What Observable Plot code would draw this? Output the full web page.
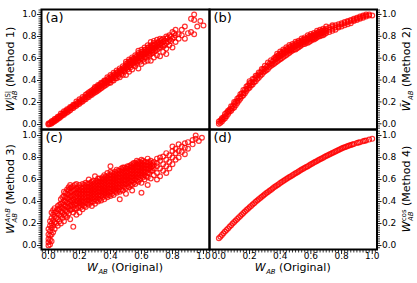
<!DOCTYPE html>
<html><head><meta charset="utf-8">
<script src="https://cdn.jsdelivr.net/npm/d3@7"></script>
<script src="https://cdn.jsdelivr.net/npm/@observablehq/plot@0.6"></script>
<style>
body{margin:0;background:#fff;}
#wrap{position:relative;width:417px;height:283px;font-family:"DejaVu Sans";color:#000;overflow:hidden;}
#wrap svg{position:absolute;left:0;top:0;}
.lab{position:absolute;white-space:nowrap;font-size:11px;line-height:1;}
.rot{transform:translate(-50%,-50%) rotate(-90deg);}
.hz{transform:translate(-50%,-50%);}
.ss{display:inline-block;vertical-align:-0.42em;font-size:0.62em;line-height:1.05;margin-left:0.5px;}
.ss span{display:block;text-align:left;}
i{font-style:italic;}
</style>
</head><body>
<div id="wrap"></div>
<script>
// ---- data (x = W_AB original, y = method value) ----
const aCols = [
 [0.00,[0.00,0.01]],[0.02,[0.01,0.02,0.03]],[0.04,[0.03,0.04,0.05]],[0.06,[0.05,0.06,0.07]],
 [0.08,[0.07,0.08,0.10]],[0.10,[0.09,0.10,0.12]],[0.12,[0.11,0.13,0.14]],[0.14,[0.13,0.15,0.16]],
 [0.16,[0.15,0.17,0.18]],[0.18,[0.17,0.19,0.21]],[0.20,[0.19,0.21,0.23]],[0.22,[0.21,0.23,0.25]],
 [0.24,[0.23,0.25,0.27]],[0.26,[0.25,0.27,0.29]],[0.28,[0.27,0.29,0.31]],[0.30,[0.29,0.31,0.33,0.34]],
 [0.32,[0.31,0.33,0.35,0.36]],[0.34,[0.33,0.35,0.37,0.38]],[0.36,[0.35,0.37,0.39,0.40]],
 [0.38,[0.37,0.39,0.41,0.43]],[0.40,[0.38,0.41,0.43,0.45]],[0.42,[0.40,0.43,0.45,0.47]],
 [0.44,[0.42,0.45,0.47,0.49]],[0.46,[0.43,0.47,0.49,0.51]],[0.48,[0.45,0.49,0.51,0.53]],
 [0.50,[0.45,0.51,0.53,0.55,0.57]],[0.52,[0.48,0.53,0.55,0.57,0.59]],[0.54,[0.50,0.55,0.57,0.59,0.61]],
 [0.56,[0.53,0.57,0.59,0.61,0.63]],[0.58,[0.51,0.58,0.61,0.63,0.65,0.67]],[0.60,[0.55,0.60,0.62,0.64,0.66,0.68]],
 [0.62,[0.57,0.61,0.64,0.66,0.68,0.70]],[0.64,[0.58,0.63,0.66,0.68,0.70,0.72]],[0.66,[0.58,0.64,0.67,0.70,0.72,0.75]],
 [0.68,[0.61,0.66,0.69,0.72,0.74,0.76]],[0.70,[0.63,0.68,0.71,0.74,0.77]],[0.72,[0.62,0.70,0.73,0.76,0.78]],
 [0.74,[0.66,0.71,0.75,0.78]],[0.76,[0.64,0.69,0.74,0.78,0.80]],[0.78,[0.72,0.77,0.81]],
 [0.80,[0.70,0.78,0.84]],[0.82,[0.75,0.81,0.86]],[0.84,[0.78,0.82]],[0.86,[0.81,0.86]],
 [0.88,[0.78,0.89]],[0.90,[0.83]],[0.92,[0.84,0.96]],[0.94,[0.82,0.95,1.00]],[0.96,[0.89]],
 [0.98,[0.94]],[1.00,[0.90]],
 [0.01,[0.005,0.015]],[0.03,[0.02,0.035]],[0.05,[0.04,0.055]],[0.07,[0.06,0.075]],[0.09,[0.085,0.10]],
 [0.11,[0.105,0.12]],[0.13,[0.12,0.14]],[0.15,[0.145,0.16]],[0.17,[0.165,0.18]],[0.19,[0.185,0.20]],
 [0.21,[0.205,0.22]],[0.23,[0.225,0.24]],[0.25,[0.245,0.26,0.28]],[0.27,[0.265,0.28,0.30]],[0.29,[0.285,0.30,0.32]],
 [0.31,[0.30,0.32,0.34]],[0.33,[0.32,0.34,0.36]],[0.35,[0.34,0.36,0.38]],[0.37,[0.36,0.38,0.40]],
 [0.39,[0.38,0.40,0.42]],[0.41,[0.40,0.42,0.44]],[0.43,[0.42,0.44,0.46]],[0.45,[0.44,0.46,0.48]],
 [0.47,[0.46,0.48,0.50]],[0.49,[0.48,0.50,0.52]],[0.51,[0.50,0.52,0.54,0.56]],[0.53,[0.52,0.54,0.56,0.58]],
 [0.55,[0.54,0.56,0.58,0.60]],[0.57,[0.56,0.58,0.60,0.62]],[0.59,[0.57,0.60,0.62,0.64]],[0.61,[0.59,0.62,0.64,0.66]],
 [0.63,[0.61,0.64,0.66,0.68]],[0.65,[0.63,0.65,0.68,0.70]],[0.67,[0.65,0.67,0.70,0.72]],[0.69,[0.67,0.70,0.73]],
 [0.71,[0.69,0.72,0.75]],[0.73,[0.72,0.74,0.77]],[0.75,[0.72,0.76]],[0.77,[0.75,0.79]],[0.79,[0.76,0.80]],[0.81,[0.79,0.83]]
];
const bCols = [
 [0.00,[0.00,0.02]],[0.02,[0.02,0.04,0.05]],[0.04,[0.05,0.07,0.09]],[0.06,[0.09,0.11,0.12]],
 [0.08,[0.12,0.14,0.16]],[0.10,[0.15,0.18,0.20]],[0.12,[0.19,0.21,0.23]],[0.14,[0.23,0.25,0.27]],
 [0.16,[0.26,0.28,0.31]],[0.18,[0.30,0.32,0.34]],[0.20,[0.33,0.35,0.37,0.39]],[0.22,[0.36,0.38,0.41]],
 [0.24,[0.39,0.42,0.44]],[0.26,[0.42,0.45,0.47]],[0.28,[0.45,0.48,0.50]],[0.30,[0.48,0.50,0.53]],
 [0.32,[0.50,0.53,0.56]],[0.34,[0.53,0.55,0.58]],[0.36,[0.55,0.58,0.60]],[0.38,[0.57,0.60,0.62,0.64]],
 [0.40,[0.59,0.62,0.64,0.66]],[0.42,[0.61,0.64,0.66,0.68]],[0.44,[0.63,0.66,0.68,0.70]],
 [0.46,[0.65,0.67,0.70,0.72]],[0.48,[0.67,0.69,0.71,0.73]],[0.50,[0.68,0.71,0.73,0.75]],
 [0.52,[0.70,0.72,0.74,0.76]],[0.54,[0.72,0.74,0.76,0.78]],[0.56,[0.73,0.75,0.77,0.79]],
 [0.58,[0.74,0.77,0.79,0.81]],[0.60,[0.76,0.78,0.80,0.82]],[0.62,[0.77,0.79,0.81,0.83]],
 [0.64,[0.79,0.81,0.83,0.85]],[0.66,[0.80,0.82,0.84,0.86]],[0.68,[0.81,0.83,0.85,0.87]],
 [0.70,[0.83,0.85,0.87,0.89]],[0.72,[0.84,0.86,0.88]],[0.74,[0.85,0.87,0.89,0.90]],
 [0.76,[0.86,0.88,0.90]],[0.78,[0.88,0.89,0.91]],[0.80,[0.89,0.91,0.92]],[0.82,[0.90,0.92,0.93]],
 [0.84,[0.91,0.93,0.94]],[0.86,[0.92,0.94,0.95]],[0.88,[0.94,0.95,0.96]],[0.90,[0.95,0.96,0.97]],
 [0.92,[0.96,0.97,0.98]],[0.94,[0.97,0.98,0.99]],[0.96,[0.98,0.99,1.00]],[0.98,[0.99,1.00]],[1.00,[0.99]],
 [0.01,[0.01,0.03]],[0.03,[0.04,0.06]],[0.05,[0.07,0.10]],[0.07,[0.11,0.13]],[0.09,[0.14,0.16]],
 [0.11,[0.17,0.20]],[0.13,[0.21,0.24]],[0.15,[0.25,0.28]],[0.17,[0.28,0.31]],[0.19,[0.32,0.35]],
 [0.21,[0.35,0.38]],[0.23,[0.38,0.41]],[0.25,[0.41,0.44]],[0.27,[0.44,0.47]],[0.29,[0.47,0.50]],
 [0.31,[0.49,0.52]],[0.33,[0.52,0.55]],[0.35,[0.54,0.57]],[0.37,[0.56,0.59,0.61]],[0.39,[0.58,0.61,0.63]],
 [0.41,[0.60,0.63,0.65]],[0.43,[0.62,0.65,0.67]],[0.45,[0.64,0.67,0.69]],[0.47,[0.66,0.68,0.71]],
 [0.49,[0.68,0.70,0.72]],[0.51,[0.69,0.72,0.74]],[0.53,[0.71,0.73,0.75]],[0.55,[0.73,0.75,0.77]],
 [0.57,[0.74,0.76,0.78]],[0.59,[0.75,0.78,0.80]],[0.61,[0.77,0.79,0.81]],[0.63,[0.78,0.80,0.82]],
 [0.65,[0.80,0.82,0.84]],[0.67,[0.81,0.83,0.85]],[0.69,[0.82,0.84,0.86]]
];
const cCols = [
 [0.00,[0.00,0.03,0.06,0.10,0.15]],[0.01,[0.01,0.05,0.09,0.13,0.18,0.22]],[0.02,[0.04,0.10,0.16,0.20,0.25,0.30]],
 [0.03,[0.12,0.18,0.23,0.28,0.32]],[0.04,[0.15,0.21,0.26,0.30,0.34]],[0.06,[0.18,0.24,0.29,0.33,0.36]],
 [0.08,[0.20,0.27,0.31,0.35,0.38,0.42]],[0.10,[0.22,0.28,0.33,0.37,0.41,0.45,0.49]],
 [0.12,[0.26,0.31,0.35,0.39,0.43,0.47,0.51]],[0.14,[0.24,0.32,0.36,0.40,0.44,0.48,0.52,0.55]],
 [0.16,[0.17,0.30,0.35,0.39,0.42,0.46,0.50,0.54]],[0.18,[0.28,0.34,0.38,0.41,0.45,0.48,0.52,0.56]],
 [0.20,[0.30,0.36,0.39,0.42,0.45,0.48,0.51,0.55]],[0.22,[0.33,0.37,0.40,0.43,0.46,0.49,0.52,0.56]],
 [0.24,[0.35,0.39,0.42,0.45,0.48,0.51,0.54,0.57]],[0.26,[0.37,0.41,0.44,0.47,0.50,0.53,0.56,0.60]],
 [0.28,[0.36,0.40,0.43,0.46,0.49,0.52,0.55,0.58]],[0.30,[0.38,0.42,0.45,0.48,0.51,0.54,0.57,0.63]],
 [0.32,[0.40,0.43,0.46,0.49,0.52,0.55,0.58,0.61]],[0.34,[0.41,0.45,0.48,0.51,0.54,0.57,0.60]],
 [0.36,[0.42,0.46,0.49,0.52,0.55,0.58,0.61,0.64]],[0.38,[0.44,0.47,0.50,0.53,0.56,0.59,0.62,0.66]],
 [0.40,[0.45,0.49,0.52,0.55,0.58,0.61,0.64,0.67,0.72]],[0.42,[0.46,0.50,0.53,0.56,0.59,0.62,0.65]],
 [0.44,[0.48,0.51,0.54,0.57,0.60,0.63,0.66,0.69]],[0.46,[0.42,0.49,0.53,0.56,0.59,0.62,0.65,0.68]],
 [0.48,[0.50,0.54,0.57,0.60,0.63,0.66,0.69,0.71]],[0.50,[0.47,0.52,0.56,0.59,0.62,0.64,0.67,0.70]],
 [0.52,[0.53,0.57,0.60,0.63,0.66,0.69,0.72]],[0.54,[0.50,0.55,0.59,0.62,0.65,0.68,0.71,0.74]],
 [0.56,[0.56,0.60,0.63,0.66,0.69,0.72,0.75]],[0.58,[0.58,0.62,0.65,0.68,0.71,0.74,0.76]],
 [0.60,[0.48,0.57,0.63,0.66,0.69,0.72,0.75,0.78]],[0.62,[0.60,0.64,0.67,0.70,0.73,0.76]],
 [0.64,[0.55,0.62,0.66,0.69,0.72,0.75,0.79]],[0.66,[0.61,0.68,0.71,0.74,0.77]],
 [0.68,[0.64,0.70,0.73,0.76]],[0.70,[0.60,0.66,0.72,0.75,0.79]],[0.72,[0.63,0.70,0.77,0.80]],
 [0.74,[0.68,0.74,0.81]],[0.76,[0.66,0.72,0.78,0.84]],[0.78,[0.70,0.76,0.82]],
 [0.80,[0.74,0.80,0.86,0.90]],[0.82,[0.78,0.84,0.88]],[0.84,[0.80,0.86,0.92]],[0.86,[0.85,0.90]],
 [0.88,[0.83,0.89,0.93]],[0.90,[0.88,0.94]],[0.93,[0.92,0.96]],[0.95,[0.97,1.00]],[0.97,[0.95]],[0.99,[0.98]],
 [0.05,[0.20,0.25,0.31]],[0.07,[0.22,0.28,0.33,0.37]],[0.09,[0.25,0.30,0.34,0.39,0.44]],
 [0.11,[0.27,0.32,0.36,0.40,0.44,0.48]],[0.13,[0.29,0.34,0.38,0.42,0.46,0.50,0.53]],
 [0.15,[0.33,0.37,0.41,0.45,0.49,0.53]],[0.17,[0.33,0.37,0.40,0.44,0.47,0.51,0.55]],
 [0.19,[0.35,0.40,0.43,0.47,0.50,0.53]],[0.21,[0.35,0.38,0.41,0.44,0.47,0.50,0.53]],
 [0.23,[0.36,0.40,0.44,0.47,0.50,0.53,0.55]],[0.25,[0.38,0.41,0.44,0.47,0.50,0.53,0.56]],
 [0.27,[0.39,0.42,0.45,0.48,0.51,0.54,0.57]],[0.29,[0.40,0.44,0.47,0.50,0.53,0.56,0.59]],
 [0.31,[0.41,0.44,0.47,0.50,0.53,0.56,0.59]],[0.33,[0.42,0.46,0.49,0.52,0.55,0.58,0.61]],
 [0.35,[0.44,0.47,0.50,0.53,0.56,0.59,0.62]],[0.37,[0.45,0.48,0.51,0.54,0.57,0.60,0.63]],
 [0.39,[0.46,0.49,0.52,0.55,0.58,0.61,0.64]],[0.41,[0.47,0.51,0.54,0.57,0.60,0.63,0.66]],
 [0.43,[0.49,0.52,0.55,0.58,0.61,0.64,0.67]],[0.45,[0.50,0.53,0.56,0.59,0.62,0.65,0.68]],
 [0.47,[0.51,0.55,0.58,0.61,0.64,0.67,0.70]],[0.49,[0.53,0.56,0.59,0.62,0.65,0.68,0.71]],
 [0.51,[0.54,0.58,0.61,0.64,0.67,0.70,0.72]],[0.53,[0.55,0.59,0.62,0.65,0.68,0.71,0.73]],
 [0.55,[0.57,0.61,0.64,0.67,0.70,0.73,0.75]],[0.57,[0.59,0.62,0.65,0.68,0.71,0.74,0.77]],
 [0.59,[0.60,0.64,0.67,0.70,0.73,0.76]],[0.61,[0.62,0.65,0.68,0.71,0.74,0.77]],
 [0.63,[0.63,0.67,0.70,0.73,0.76]],[0.65,[0.66,0.70,0.73,0.76]],[0.67,[0.68,0.72,0.75]]
];
const dX = [0.00,0.01,0.02,0.03,0.04,0.05,0.06,0.07,0.08,0.09,0.10,0.11,0.12,0.13,0.14,0.15,0.16,0.17,0.18,0.19,
 0.20,0.21,0.22,0.23,0.24,0.25,0.26,0.27,0.28,0.29,0.30,0.31,0.32,0.33,0.34,0.35,0.36,0.37,0.38,0.39,
 0.40,0.41,0.42,0.43,0.44,0.45,0.46,0.47,0.48,0.49,0.50,0.51,0.52,0.53,0.54,0.55,0.56,0.57,0.58,0.59,
 0.60,0.61,0.62,0.63,0.64,0.65,0.66,0.67,0.68,0.69,0.70,0.71,0.72,0.73,0.74,0.75,0.76,0.77,0.78,0.79,
 0.80,0.81,0.82,0.83,0.84,0.85,0.86,0.87,0.88,0.90,0.91,0.92,0.94,0.95,0.96,0.98,1.00];
const dY = [0.066,0.081,0.096,0.112,0.127,0.142,0.156,0.171,0.185,0.200,0.214,0.228,0.242,0.256,0.269,0.283,0.296,0.309,0.322,0.335,
 0.348,0.360,0.372,0.385,0.397,0.409,0.420,0.432,0.443,0.455,0.466,0.477,0.487,0.498,0.508,0.519,0.529,0.539,0.548,0.558,
 0.568,0.577,0.586,0.596,0.605,0.614,0.623,0.631,0.640,0.648,0.657,0.665,0.674,0.682,0.691,0.699,0.707,0.715,0.722,0.730,
 0.738,0.746,0.754,0.761,0.769,0.777,0.784,0.792,0.799,0.807,0.814,0.821,0.828,0.835,0.842,0.849,0.856,0.862,0.869,0.875,
 0.882,0.888,0.893,0.899,0.904,0.910,0.914,0.919,0.923,0.932,0.936,0.940,0.948,0.952,0.955,0.963,0.970];
const majorTicks = [0.0, 0.2, 0.4, 0.6, 0.8, 1.0];
const tickLabels = ["0.0", "0.2", "0.4", "0.6", "0.8", "1.0"];
const panelTags = ["(a)", "(b)", "(c)", "(d)"];

// ---- helpers ----
const fromCols = cols => cols.flatMap(([x, ys]) => ys.map(y => ({x, y})));
const dPts = dX.map((x, i) => ({x, y: dY[i]}));
const minorTicks = d3.range(-6, 54).map(k => +(k * 0.02).toFixed(2)).filter(v => !majorTicks.some(m => Math.abs(m - v) < 1e-6));
const hTick = (len, dir) => ({draw(ctx){ ctx.moveTo(0, 0); ctx.lineTo(dir * len, 0); }});
const vTick = len => ({draw(ctx){ ctx.moveTo(0, 0); ctx.lineTo(0, len); }});

const W = 417, H = 283;
function panel(pts, o) {
  const xd = o.xd, yd = o.yd;
  const xmin = minorTicks.filter(v => v >= xd[0] && v <= xd[1]);
  const ymin = minorTicks.filter(v => v >= yd[0] && v <= yd[1]);
  const side = o.ySide;
  const dir = side === "left" ? -1 : 1;
  const marks = [
    Plot.dot(pts, {x: "x", y: "y", r: 2.4, fill: "none", stroke: "#ff0000", strokeWidth: 1.2, strokeOpacity: 0.8}),
    Plot.frame({stroke: "black", strokeWidth: 2}),
    Plot.dot(ymin, {y: d => d, frameAnchor: side, symbol: hTick(3, dir), r: 1, fill: "none", stroke: "black", strokeWidth: 0.8}),
    Plot.dot(majorTicks, {y: d => d, frameAnchor: side, symbol: hTick(4.5, dir), r: 1, fill: "none", stroke: "black", strokeWidth: 0.9}),
    Plot.text(majorTicks, {y: d => d, text: (d, i) => tickLabels[i], frameAnchor: side, textAnchor: side === "left" ? "end" : "start", dx: dir * 5, fontSize: 9, fill: "black"}),
    Plot.text([o.tag], {frameAnchor: "top-left", dx: 4, dy: 3, lineAnchor: "top", textAnchor: "start", fontSize: 13, fill: "black"})
  ];
  if (o.xAxis) {
    marks.push(
      Plot.dot(xmin, {x: d => d, frameAnchor: "bottom", symbol: vTick(3), r: 1, fill: "none", stroke: "black", strokeWidth: 0.8}),
      Plot.dot(majorTicks, {x: d => d, frameAnchor: "bottom", symbol: vTick(4.5), r: 1, fill: "none", stroke: "black", strokeWidth: 0.9}),
      Plot.text(majorTicks, {x: d => d, text: (d, i) => tickLabels[i], frameAnchor: "bottom", lineAnchor: "top", dy: 3, fontSize: 9, fill: "black"})
    );
  }
  return Plot.plot({
    width: W, height: H,
    marginLeft: o.l, marginRight: W - o.r, marginTop: o.t, marginBottom: H - o.b,
    style: {background: "transparent", overflow: "visible", fontFamily: "DejaVu Sans", color: "black"},
    x: {domain: xd, axis: null},
    y: {domain: yd, axis: null},
    marks
  });
}

const wrap = document.getElementById("wrap");
const L = 41, M = 209, R = 376.5, T = 9, C = 129, B = 249;
wrap.append(panel(fromCols(aCols), {l: L, r: M, t: T, b: C, xd: [-0.045, 1.039], yd: [-0.045, 1.045], ySide: "left", tag: panelTags[0]}));
wrap.append(panel(fromCols(bCols), {l: M, r: R, t: T, b: C, xd: [-0.061, 1.031], yd: [-0.052, 1.045], ySide: "right", tag: panelTags[1]}));
wrap.append(panel(fromCols(cCols), {l: L, r: M, t: C, b: B, xd: [-0.045, 1.039], yd: [-0.036, 1.055], ySide: "left", tag: panelTags[2], xAxis: true}));
wrap.append(panel(dPts, {l: M, r: R, t: C, b: B, xd: [-0.061, 1.031], yd: [-0.036, 1.055], ySide: "right", tag: panelTags[3], xAxis: true}));

// ---- axis titles (HTML text) ----
function label(html, x, y, cls) {
  const d = document.createElement("div");
  d.className = "lab " + cls;
  d.style.left = x + "px"; d.style.top = y + "px";
  d.innerHTML = html;
  wrap.append(d);
}
const ss = (sup, sub) => `<span class="ss"><span>${sup}</span><span><i>${sub}</i></span></span>`;
label(`<i>W</i>${ss("|S|", "AB")} (Method 1)`, 12, (T + C) / 2, "rot");
label(`<i>W</i>${ss("<i>A</i>∩<i>B</i>", "AB")} (Method 3)`, 12, (C + B) / 2, "rot");
label(`<i>W̃</i>${ss("&nbsp;", "AB")} (Method 2)`, 408, (T + C) / 2, "rot");
label(`<i>W</i>${ss("cos", "AB")} (Method 4)`, 408, (C + B) / 2, "rot");
label(`<i>W</i>${ss("&nbsp;", "AB")} (Original)`, (L + M) / 2, 268.5, "hz");
label(`<i>W</i>${ss("&nbsp;", "AB")} (Original)`, (M + R) / 2, 268.5, "hz");
</script>
</body></html>
